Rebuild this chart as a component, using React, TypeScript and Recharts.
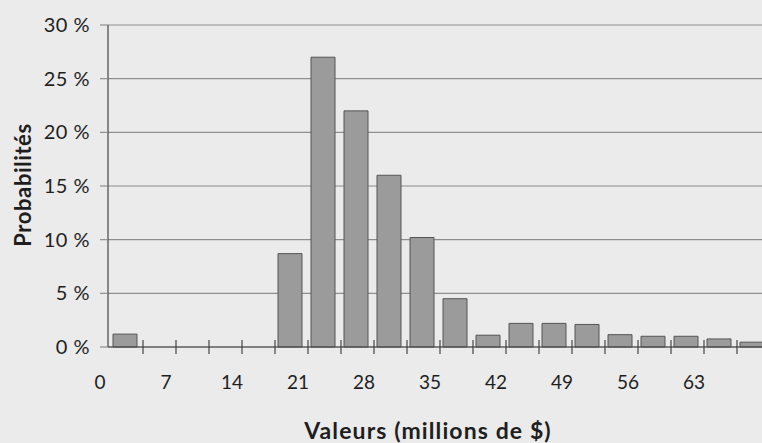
import React from "react";
import { BarChart, Bar, XAxis, YAxis, CartesianGrid, Label } from "recharts";

const bins = [0, 3.5, 7, 10.5, 14, 17.5, 21, 24.5, 28, 31.5, 35, 38.5, 42, 45.5, 49, 52.5, 56, 59.5, 63, 66.5];
const probabilities = [1.2, 0, 0, 0, 0, 8.7, 27, 22, 16, 10.2, 4.5, 1.1, 2.2, 2.2, 2.1, 1.15, 1.0, 1.0, 0.75, 0.45];
const yTicks = [0, 5, 10, 15, 20, 25, 30];
const xTitle = "Valeurs (millions de $)";
const yTitle = "Probabilités";

const data = bins.map((b, i) => ({ bin: b, p: probabilities[i] }));

const FONT = "Lato, 'Open Sans', sans-serif";
const TEXT = "#1e1e1e";

const XTick = (props: any) => {
  const { x, y, index, payload } = props;
  const half = 16.5;
  return (
    <g>
      <line x1={x + half + 2} x2={x + half + 2} y1={y - 7} y2={y + 7} stroke="#444" strokeWidth={1.2} />
      {index % 2 === 0 ? (
        <text x={x - half - 8} y={y + 42} textAnchor="middle" fontFamily={FONT} fontSize={19} fill={TEXT}>
          {payload.value}
        </text>
      ) : null}
    </g>
  );
};

export default function App() {
  return (
    <div
      style={{
        position: "fixed",
        left: 0,
        top: 0,
        width: 762,
        height: 443,
        overflow: "hidden",
        background: "#ebebeb",
      }}
    >
      <BarChart
        width={770}
        height={443}
        data={data}
        margin={{ top: 25, right: 2, bottom: 0, left: 0 }}
        barSize={24}
      >
        <CartesianGrid vertical={false} stroke="#8e8e8e" strokeWidth={1.2} />
        <XAxis
          dataKey="bin"
          type="category"
          interval={0}
          height={96}
          tickLine={false}
          tickSize={0}
          tickMargin={0}
          axisLine={{ stroke: "#444", strokeWidth: 1.2 }}
          tick={<XTick />}
        >
          <Label
            content={(p: any) => {
              const vb = p.viewBox;
              return (
                <text
                  x={vb.x + vb.width / 2 - 10}
                  y={vb.y + 92}
                  textAnchor="middle"
                  fontFamily={FONT}
                  fontWeight="bold"
                  fontSize={23}
                  letterSpacing={1.1}
                  fill={TEXT}
                >
                  {xTitle}
                </text>
              );
            }}
          />
        </XAxis>
        <YAxis
          width={108}
          domain={[0, 30]}
          ticks={yTicks}
          interval={0}
          tickSize={8}
          tickMargin={10}
          tickLine={{ stroke: "#8e8e8e", strokeWidth: 1.2 }}
          axisLine={{ stroke: "#444", strokeWidth: 1.2 }}
          tickFormatter={(v: number) => `${v} %`}
          tick={{ fontFamily: FONT, fontSize: 20, fill: TEXT, letterSpacing: 0.5 }}
        >
          <Label
            content={(p: any) => {
              const vb = p.viewBox;
              const cx = 31;
              const cy = vb.y + vb.height / 2 - 1;
              return (
                <text
                  x={cx}
                  y={cy}
                  transform={`rotate(-90, ${cx}, ${cy})`}
                  textAnchor="middle"
                  fontFamily={FONT}
                  fontWeight="bold"
                  fontSize={22}
                  letterSpacing={0.6}
                  fill={TEXT}
                >
                  {yTitle}
                </text>
              );
            }}
          />
        </YAxis>
        <Bar dataKey="p" fill="#9b9b9b" stroke="#555" strokeWidth={1} isAnimationActive={false} />
      </BarChart>
    </div>
  );
}
